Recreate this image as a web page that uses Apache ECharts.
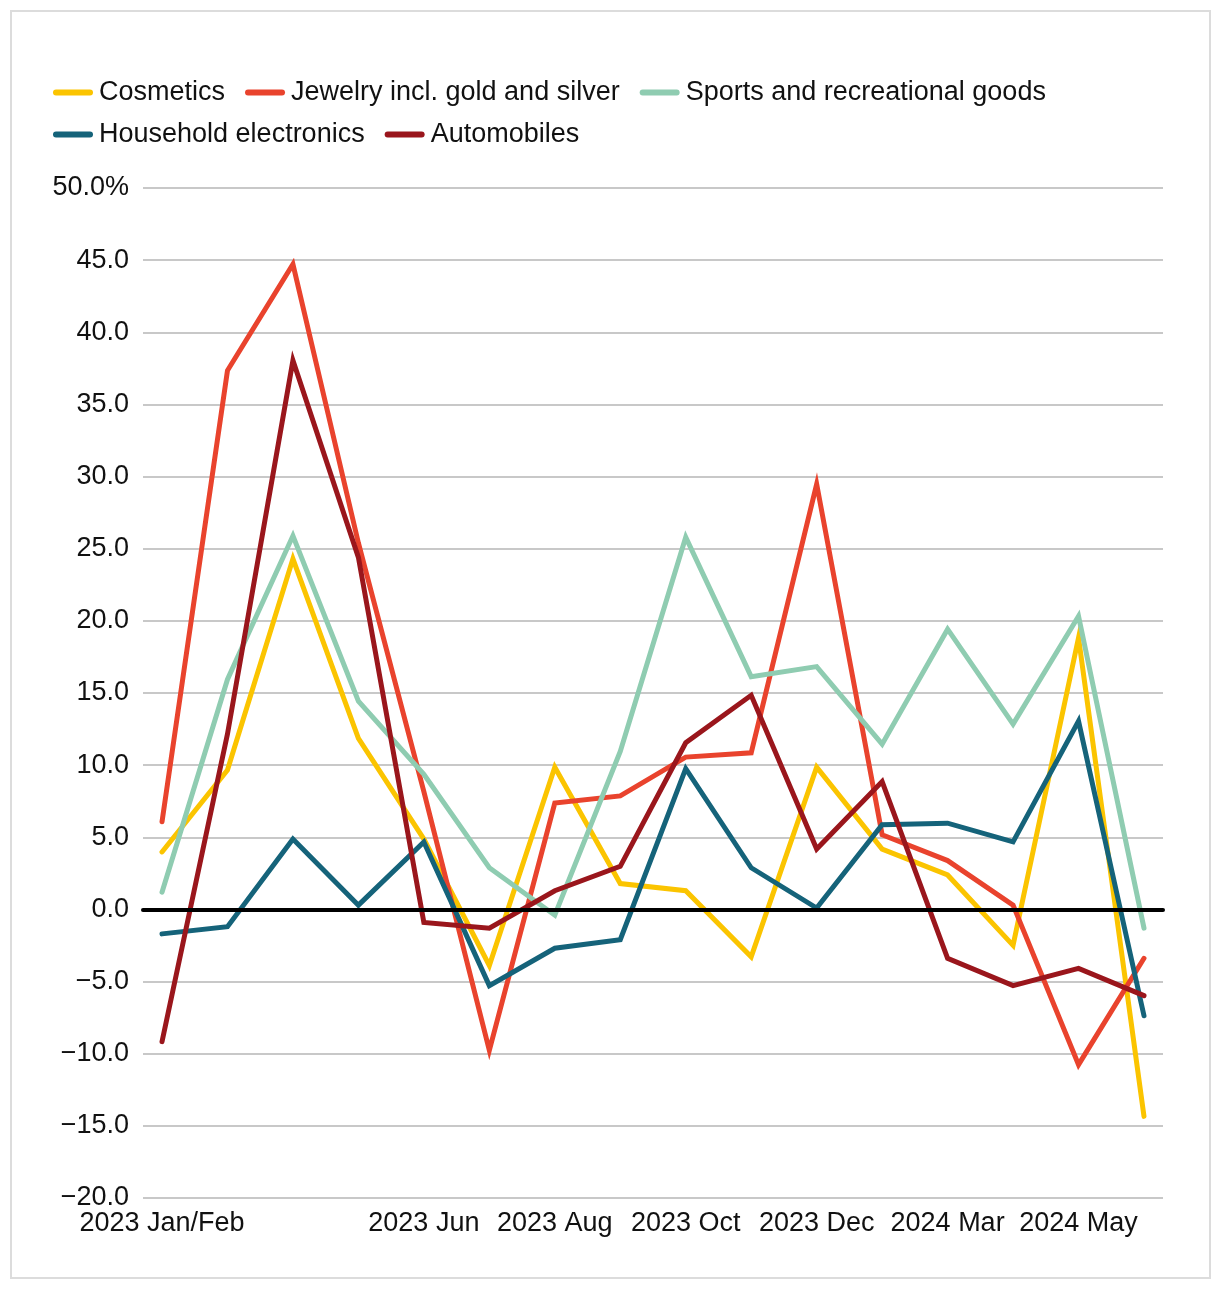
<!DOCTYPE html>
<html>
<head>
<meta charset="utf-8">
<script src="https://cdn.jsdelivr.net/npm/echarts@6/dist/echarts.min.js"></script>
<style>
html,body{margin:0;padding:0;background:#fff;}
#frame{position:absolute;left:10px;top:10px;width:1197px;height:1265px;border:2px solid #dcdcdc;}
#chart{position:absolute;left:0;top:0;width:1220px;height:1237px;}
</style>
</head>
<body>
<div id="frame"></div>
<div id="chart"></div>
<script>
const categories = ['2023 Jan/Feb','2023 Mar','2023 Apr','2023 May','2023 Jun','2023 Jul','2023 Aug','2023 Sep','2023 Oct','2023 Nov','2023 Dec','2024 Jan/Feb','2024 Mar','2024 Apr','2024 May','2024 Jun'];
const shownLabels = ['2023 Jan/Feb','2023 Jun','2023 Aug','2023 Oct','2023 Dec','2024 Mar','2024 May'];
const cosmetics = [3.8, 9.5, 24.2, 11.7, 4.7, -4.1, 9.7, 1.6, 1.1, -3.5, 9.7, 4.0, 2.2, -2.7, 18.7, -14.6];
const jewelry   = [5.9, 37.3, 44.7, 25.3, 8.0, -10.0, 7.2, 7.7, 10.4, 10.7, 29.4, 5.0, 3.2, 0.1, -11.0, -3.6];
const sports    = [1.0, 15.8, 25.8, 14.3, 9.2, 2.7, -0.6, 10.8, 25.7, 16.0, 16.7, 11.3, 19.3, 12.7, 20.2, -1.5];
const household = [-1.9, -1.4, 4.7, 0.1, 4.5, -5.5, -2.9, -2.3, 9.6, 2.7, -0.1, 5.7, 5.8, 4.5, 12.9, -7.6];
const autos     = [-9.4, 12.0, 38.0, 24.3, -1.1, -1.5, 1.1, 2.8, 11.4, 14.7, 4.0, 8.7, -3.6, -5.5, -4.3, -6.2];
const seriesNames = ['Cosmetics','Jewelry incl. gold and silver','Sports and recreational goods','Household electronics','Automobiles'];
const seriesColors = ['#FBC400','#E9432D','#8FCCB1','#15637A','#9A161C'];
const yMin = -20, yMax = 50, yStep = 5;

const FONT = 'Liberation Sans';
const FS = 27;
const chart = echarts.init(document.getElementById('chart'), null, {renderer:'canvas'});
const allData = [cosmetics, jewelry, sports, household, autos];
const icon = 'path://M3,0 L37,0 A3,3 0 0 1 37,6 L3,6 A3,3 0 0 1 3,0 Z';
const legendCommon = {
  left: 53, orient: 'horizontal', icon: icon, itemWidth: 40, itemHeight: 6, itemGap: 20, padding: 0,
  textStyle: {fontFamily: FONT, fontSize: FS, color: '#111', padding:[0,0,0,1]}
};
const option = {
  animation: false,
  backgroundColor: 'transparent',
  legend: [
    Object.assign({top: 79, data: seriesNames.slice(0,3)}, legendCommon),
    Object.assign({top: 121, data: seriesNames.slice(3)}, legendCommon)
  ],
  grid: [
    {left: 143, right: 57, top: 188, bottom: 39},
    {left: 162, right: 76, top: 188, bottom: 39}
  ],
  xAxis: [
    {type: 'value', gridIndex: 0, min: 0, max: 1, axisLabel: {show: false}, axisTick: {show: false}, splitLine: {show: false},
     axisLine: {show: true, onZero: true, lineStyle: {color: '#000', width: 4}}, z: 5},
    {type: 'category', gridIndex: 1, data: categories, boundaryGap: false,
     axisLine: {show: false, onZero: false}, axisTick: {show: false}, splitLine: {show: false},
     axisLabel: {interval: 0, margin: 16, fontFamily: FONT, fontSize: FS, color: '#111',
       formatter: v => shownLabels.includes(v) ? v : ''}}
  ],
  yAxis: [
    {type: 'value', gridIndex: 0, min: yMin, max: yMax, interval: yStep,
     axisLine: {show: false}, axisTick: {show: false},
     splitLine: {show: true, lineStyle: {color: '#c8c8c8', width: 2}},
     axisLabel: {margin: 14, fontFamily: FONT, fontSize: FS, color: '#111',
       formatter: v => {
         let s = Math.abs(v).toFixed(1);
         if (v < 0) s = '\u2212' + s;
         if (v === yMax) s += '%';
         return s;
       }}},
    {type: 'value', gridIndex: 1, min: yMin, max: yMax, interval: yStep, show: false, splitLine: {show: false}}
  ],
  series: seriesNames.map((n, i) => ({
    name: n, type: 'line', xAxisIndex: 1, yAxisIndex: 1, data: allData[i],
    showSymbol: false, symbol: 'none', color: seriesColors[i],
    lineStyle: {width: 5, color: seriesColors[i], cap: 'round', join: 'miter'},
    z: 2 + i * 0.1
  }))
};
chart.setOption(option);
</script>
</body>
</html>
